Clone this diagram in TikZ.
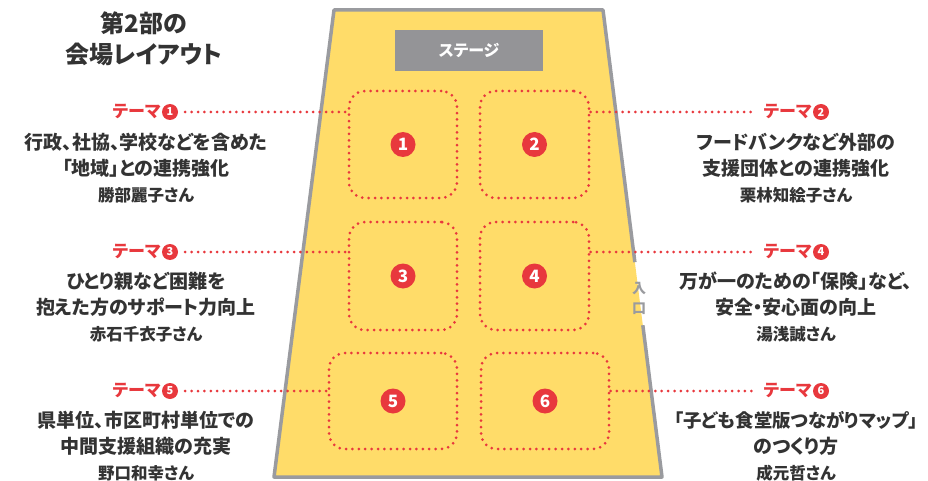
\documentclass[tikz,border=0pt]{standalone}
\usepackage{fontspec}
\setmainfont{Noto Sans CJK JP}[RawFeature=+palt]
\usetikzlibrary{positioning,calc}
\definecolor{hall}{HTML}{FFDC69}
\definecolor{wall}{HTML}{9A9B9F}
\definecolor{themered}{HTML}{E8383D}
\definecolor{ink}{HTML}{333333}
\definecolor{stagegray}{HTML}{949497}
\newcommand{\speaker}[1]{{\fontsize{16.5}{26}\selectfont #1}}

\begin{document}
\begin{tikzpicture}[x=1pt,y=-1pt,
	booth/.style={draw=themered,line width=3pt,dash pattern=on 0pt off 6.4pt,line cap=round,rounded corners=16pt,fill=hall,inner sep=0pt},
	dotline/.style={draw=themered,line width=3pt,dash pattern=on 0pt off 6.4pt,line cap=round},
	bignum/.style={circle,fill=themered,text=white,minimum size=25pt,inner sep=0pt,font=\fontsize{17}{17}\selectfont\bfseries},
	smallnum/.style={circle,fill=themered,text=white,minimum size=16pt,inner sep=0pt,font=\fontsize{11}{11}\selectfont\bfseries},
	tag/.style={text=themered,inner sep=0pt,font=\fontsize{17}{17}\selectfont\bfseries},
	theme/.style={align=center,text=ink,inner sep=0pt,font=\fontsize{19}{26}\selectfont\bfseries}]
	\useasboundingbox (0,0) rectangle (928,481);
	\coordinate (tl) at (334,10);
	\coordinate (tr) at (603,10);
	\coordinate (br) at (662,477);
	\coordinate (bl) at (274,477);
	\coordinate (door1) at ($(tr)!0.54!(br)$);
	\coordinate (door2) at ($(tr)!0.675!(br)$);
	\fill[hall] (tl) -- (tr) -- (br) -- (bl) -- cycle;
	\draw[wall,line width=3.5pt,line join=round] (door1) -- (tr) -- (tl) -- (bl) -- (br) -- (door2);
	\node[text=wall,align=center,font=\fontsize{14}{20}\selectfont\bfseries] (door) at (639,298) {入\\口};
	\node[fill=stagegray,text=white,minimum width=148pt,minimum height=41pt,font=\fontsize{16}{16}\selectfont\bfseries] (stage) at (469,50.5) {ステージ};
	\node[text=ink,align=center,font=\fontsize{24}{31}\selectfont\bfseries] (title) at (144,39) {第2部の\\会場レイアウト};

	\node[booth,minimum width=108pt,minimum height=107pt] (b1) at (403,144.5) {};
	\node[booth,minimum width=109pt,minimum height=107pt] (b2) at (534.5,144.5) {};
	\node[booth,minimum width=108pt,minimum height=108pt] (b3) at (403,276) {};
	\node[booth,minimum width=109pt,minimum height=108pt] (b4) at (534.5,276) {};
	\node[booth,minimum width=128pt,minimum height=96pt] (b5) at (393,401) {};
	\node[booth,minimum width=128pt,minimum height=96pt] (b6) at (545,401) {};
	\foreach \i in {1,...,6}
		\node[bignum] (m\i) at (b\i) {\i};

	\node[smallnum] (n1) at (170,112) {1};
	\node[tag,left=1pt of n1] (t1) {テーマ};
	\node[smallnum] (n3) at (170,252) {3};
	\node[tag,left=1pt of n3] (t3) {テーマ};
	\node[smallnum] (n5) at (170,391) {5};
	\node[tag,left=1pt of n5] (t5) {テーマ};
	\node[smallnum] (n2) at (821,112) {2};
	\node[tag,left=1pt of n2] (t2) {テーマ};
	\node[smallnum] (n4) at (821,252) {4};
	\node[tag,left=1pt of n4] (t4) {テーマ};
	\node[smallnum] (n6) at (821,391) {6};
	\node[tag,left=1pt of n6] (t6) {テーマ};

	\draw[dotline,shorten <=7pt] (n1.east) -- (n1 -| b1.west);
	\draw[dotline,shorten <=7pt] (n3.east) -- (n3 -| b3.west);
	\draw[dotline,shorten <=7pt] (n5.east) -- (n5 -| b5.west);
	\draw[dotline,shorten >=9pt] (t2 -| b2.east) -- (t2.west);
	\draw[dotline,shorten >=9pt] (t4 -| b4.east) -- (t4.west);
	\draw[dotline,shorten >=9pt] (t6 -| b6.east) -- (t6.west);

	\node[theme] (d1) at (146,168) {行政、社協、学校などを含めた\\「地域」との連携強化\\\speaker{勝部麗子さん}};
	\node[theme] (d3) at (146,307) {ひとり親など困難を\\抱えた方のサポート力向上\\\speaker{赤石千衣子さん}};
	\node[theme] (d5) at (146,446) {県単位、市区町村単位での\\中間支援組織の充実\\\speaker{野口和幸さん}};
	\node[theme] (d2) at (796,168) {フードバンクなど外部の\\支援団体との連携強化\\\speaker{栗林知絵子さん}};
	\node[theme] (d4) at (796,307) {万が一のための「保険」など、\\安全・安心面の向上\\\speaker{湯浅誠さん}};
	\node[theme] (d6) at (796,446) {{\fontsize{18.4}{26}\selectfont「子ども食堂版つながりマップ」}\\のつくり方\\\speaker{成元哲さん}};
\end{tikzpicture}
\end{document}
